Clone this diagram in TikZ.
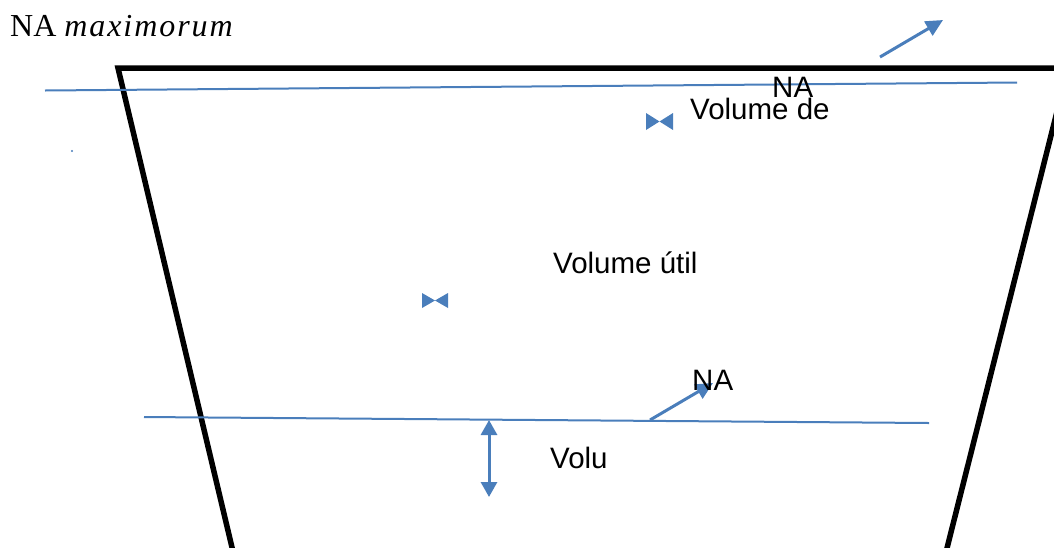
\documentclass[tikz,border=0pt]{standalone}
\usepackage{fontspec}
\setmainfont{Liberation Sans}
\newfontfamily\serifA{Liberation Serif}
\newfontfamily\serifI[LetterSpace=6]{Liberation Serif Italic}
\usetikzlibrary{arrows.meta}
\definecolor{blu}{RGB}{74,126,187}
\tikzset{
  wall/.style={line width=5.5pt, line join=miter},
  level/.style={blu, line width=2pt},
  pointer/.style={blu, line width=3pt, -{Triangle[length=17pt,width=16pt]}},
  dbl/.style={blu, line width=3pt, {Triangle[length=15pt,width=16pt]}-{Triangle[length=15pt,width=16pt]}},
  lbl/.style={inner sep=0pt, anchor=base west, font=\fontsize{29.5}{32}\selectfont},
  bow/.style={fill=blu, draw=none}
}
\begin{document}
\begin{tikzpicture}[x=1pt,y=-1pt]
\useasboundingbox (0,0) rectangle (1054,547);
\clip (0,0) rectangle (1054,547);
% trapezoid walls
\coordinate (tl) at (118,68);
\coordinate (bl) at (235,560);
\coordinate (tr) at (1068,68);
\coordinate (br) at (944,560);
\draw[wall] (bl) -- (tl) -- (tr);
\draw[wall] (tr) -- (br);
% levels
\coordinate (l1a) at (45,90.5);
\coordinate (l1b) at (1017,82.5);
\draw[level] (l1a) -- (l1b);
\coordinate (l2a) at (144,417);
\coordinate (l2b) at (929,423);
\draw[level] (l2a) -- (l2b);
\fill[blu] (72,151) circle (1.2pt);
% arrows
\coordinate (a1s) at (880,57);
\coordinate (a1e) at (943,20);
\draw[pointer] (a1s) -- (a1e);
\coordinate (a2s) at (650,420);
\coordinate (a2e) at (713,383);
\draw[pointer] (a2s) -- (a2e);
\coordinate (d1) at (489,420);
\coordinate (d2) at (489,497);
\draw[dbl] (d1) -- (d2);
% bowties
\fill[bow] (646,113) -- (659.5,121.5) -- (646,130) -- cycle;
\fill[bow] (673,113) -- (659.5,121.5) -- (673,130) -- cycle;
\fill[bow] (422,293) -- (435,300.5) -- (422,308) -- cycle;
\fill[bow] (448,293) -- (435,300.5) -- (448,308) -- cycle;
% labels
\node[inner sep=0pt, anchor=base west, font=\serifA\fontsize{32}{35}\selectfont] (nam) at (10,36) {NA {\serifI maximorum}};
\node[lbl] (na1) at (772,97) {NA};
\node[lbl] (vd) at (690,119) {Volume de};
\node[lbl] (vu) at (553,273) {Volume útil};
\node[lbl] (na2) at (692,390) {NA};
\node[lbl] (vo) at (550,468) {Volu};
\end{tikzpicture}
\end{document}
